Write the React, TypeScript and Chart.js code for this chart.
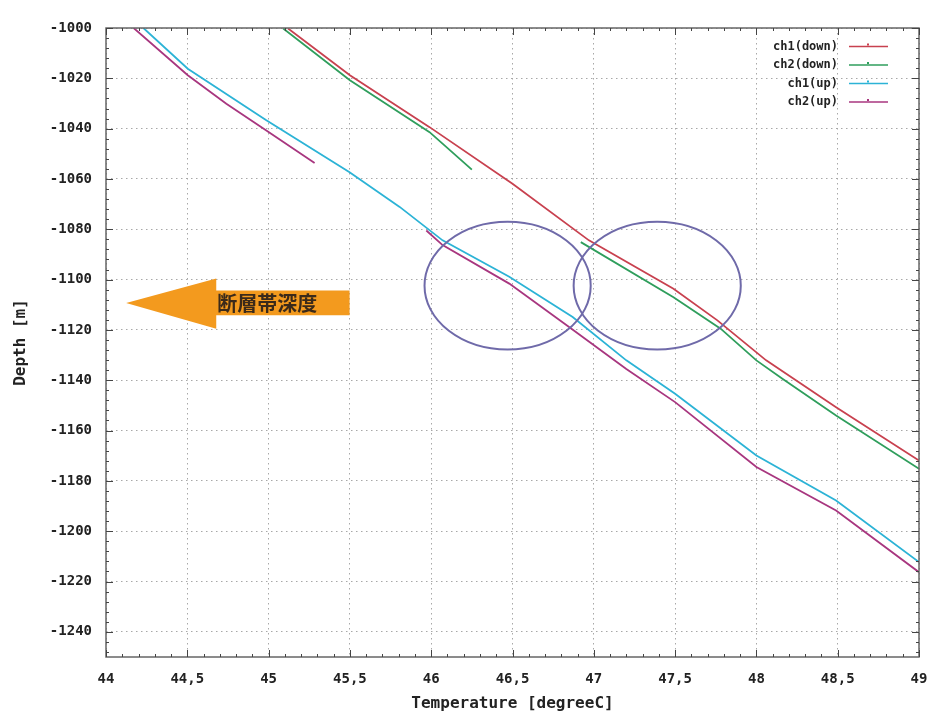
import React, { useEffect, useRef } from 'react';
import { Chart, registerables } from 'chart.js';

Chart.register(...registerables);

// ---- tick labels ----
const xTicks = [44, 44.5, 45, 45.5, 46, 46.5, 47, 47.5, 48, 48.5, 49];
const yTicks = [-1000, -1020, -1040, -1060, -1080, -1100, -1120, -1140, -1160, -1180, -1200, -1220, -1240];
const xMin = 44;
const xMax = 49;
const yMin = -1250;
const yMax = -1000;

// ---- series names ----
const seriesNames = ['ch1(down)', 'ch2(down)', 'ch1(up)', 'ch2(up)'];

// ---- series values (temperature [degC], depth [m]); null depth = gap in record ----
const ch1DownT = [45.12, 45.5, 45.99, 46.5, 46.97, 47.49, 47.76, 48.06, 48.49, 49.0];
const ch1DownD = [-1000.2, -1018.8, -1039.4, -1061.9, -1084.4, -1103.6, -1116.2, -1132.1, -1150.7, -1171.9];

const ch2DownT = [45.09, 45.5, 45.99, 46.25, 46.6, 46.92, 47.49, 47.78, 48.0, 48.16, 48.49, 49.0];
const ch2DownD = [-1000.2, -1020.8, -1041.4, -1056.3, null, -1085.1, -1107.0, -1119.5, -1132.1, -1139.4, -1154.0, -1175.2];

const ch1UpT = [44.23, 44.503, 44.986, 45.498, 45.806, 46.07, 46.48, 46.87, 47.2, 47.5, 48.0, 48.49, 49.0];
const ch1UpD = [-1000.0, -1016.2, -1036.7, -1057.3, -1071.1, -1084.4, -1098.9, -1114.9, -1132.1, -1145.4, -1169.9, -1187.8, -1212.3];

const ch2UpT = [44.17, 44.503, 44.74, 44.986, 45.283, 45.6, 45.97, 46.07, 46.48, 46.85, 47.2, 47.5, 48.0, 48.49, 49.0];
const ch2UpD = [-1000.0, -1018.8, -1030.1, -1040.7, -1053.7, null, -1080.5, -1086.3, -1101.6, -1118.9, -1135.5, -1148.7, -1174.5, -1191.8, -1216.3];

// ---- annotation ----
const annotationText = '断層帯深度';

// ---- styles ----
const seriesColors = ['#c8414f', '#2f9e5c', '#2cb3d6', '#a8367f'];
const ellipseColor = '#6f6aa9';
const arrowColor = '#f39a1e';
// ellipse centres / radii in data units
const ellipseSpecs = [
  { t: 46.47, d: -1102.4, rt: 0.511, rd: 25.4 },
  { t: 47.39, d: -1102.4, rt: 0.514, rd: 25.4 },
];
// arrow geometry in data units
const arrowSpec = {
  tipT: 44.124, tipD: -1109.3,
  headT: 44.678, headTopD: -1099.6, headBottomD: -1119.5,
  endT: 45.498, shaftTopD: -1104.3, shaftBottomD: -1114.2,
};

const toPoints = (ts: number[], ds: (number | null)[]) =>
  ts.map((t, i) => ({ x: t, y: ds[i] }));

const fmtX = (v: number) => String(v).replace('.', ',');

const decorPlugin = {
  id: 'decor',
  afterDatasetsDraw(chart: any) {
    const { ctx, chartArea: a, scales } = chart;
    const x = scales.x;
    const y = scales.y;
    ctx.save();

    // frame
    ctx.strokeStyle = '#666';
    ctx.lineWidth = 1.5;
    ctx.strokeRect(a.left, a.top, a.right - a.left, a.bottom - a.top);

    // inward ticks (major + minor)
    ctx.strokeStyle = '#444';
    ctx.lineWidth = 1;
    ctx.beginPath();
    const nx = Math.round((xMax - xMin) / 0.1);
    for (let i = 0; i <= nx; i++) {
      const px = Math.round(x.getPixelForValue(xMin + i * 0.1)) + 0.5;
      const len = i % 5 === 0 ? 7 : 3;
      ctx.moveTo(px, a.bottom);
      ctx.lineTo(px, a.bottom - len);
      ctx.moveTo(px, a.top);
      ctx.lineTo(px, a.top + len);
    }
    for (let v = yMax; v >= yMin; v -= 4) {
      const py = Math.round(y.getPixelForValue(v)) + 0.5;
      const len = (yMax - v) % 20 === 0 ? 7 : 3;
      ctx.moveTo(a.left, py);
      ctx.lineTo(a.left + len, py);
      ctx.moveTo(a.right, py);
      ctx.lineTo(a.right - len, py);
    }
    ctx.stroke();

    // ellipses
    ctx.strokeStyle = ellipseColor;
    ctx.lineWidth = 2;
    for (const e of ellipseSpecs) {
      const cx = x.getPixelForValue(e.t);
      const cy = y.getPixelForValue(e.d);
      const rx = Math.abs(x.getPixelForValue(e.t + e.rt) - cx);
      const ry = Math.abs(y.getPixelForValue(e.d + e.rd) - cy);
      ctx.beginPath();
      ctx.ellipse(cx, cy, rx, ry, 0, 0, Math.PI * 2);
      ctx.stroke();
    }

    // arrow
    const A = arrowSpec;
    ctx.fillStyle = arrowColor;
    ctx.beginPath();
    ctx.moveTo(x.getPixelForValue(A.tipT), y.getPixelForValue(A.tipD));
    ctx.lineTo(x.getPixelForValue(A.headT), y.getPixelForValue(A.headTopD));
    ctx.lineTo(x.getPixelForValue(A.headT), y.getPixelForValue(A.shaftTopD));
    ctx.lineTo(x.getPixelForValue(A.endT), y.getPixelForValue(A.shaftTopD));
    ctx.lineTo(x.getPixelForValue(A.endT), y.getPixelForValue(A.shaftBottomD));
    ctx.lineTo(x.getPixelForValue(A.headT), y.getPixelForValue(A.shaftBottomD));
    ctx.lineTo(x.getPixelForValue(A.headT), y.getPixelForValue(A.headBottomD));
    ctx.closePath();
    ctx.fill();

    ctx.fillStyle = '#3b2a1a';
    ctx.font = 'bold 20px "Noto Sans CJK JP"';
    ctx.textAlign = 'left';
    ctx.textBaseline = 'middle';
    ctx.fillText(
      annotationText,
      x.getPixelForValue(A.headT) + 1,
      (y.getPixelForValue(A.shaftTopD) + y.getPixelForValue(A.shaftBottomD)) / 2 + 1
    );

    // legend (gnuplot style, inside top-right)
    ctx.font = 'bold 12px "DejaVu Sans Mono"';
    ctx.textAlign = 'right';
    ctx.textBaseline = 'middle';
    for (let i = 0; i < seriesNames.length; i++) {
      const ly = a.top + 18.5 + i * 18.5;
      ctx.fillStyle = '#222';
      ctx.fillText(seriesNames[i], a.right - 81, ly);
      ctx.strokeStyle = seriesColors[i];
      ctx.lineWidth = 1.5;
      ctx.beginPath();
      ctx.moveTo(a.right - 70, ly);
      ctx.lineTo(a.right - 31, ly);
      ctx.stroke();
      ctx.fillStyle = seriesColors[i];
      ctx.fillRect(a.right - 52, ly - 3, 2, 2);
    }

    ctx.restore();
  },
};

export default function App() {
  const canvasRef = useRef<HTMLCanvasElement | null>(null);

  useEffect(() => {
    const canvas = canvasRef.current;
    if (!canvas) return;
    const seriesT = [ch1DownT, ch2DownT, ch1UpT, ch2UpT];
    const seriesD = [ch1DownD, ch2DownD, ch1UpD, ch2UpD];
    const chart = new Chart(canvas, {
      type: 'line',
      data: {
        datasets: seriesNames.map((name, i) => ({
          label: name,
          data: toPoints(seriesT[i], seriesD[i]),
          borderColor: seriesColors[i],
          backgroundColor: seriesColors[i],
          borderWidth: 1.8,
          pointRadius: 0,
          tension: 0,
          spanGaps: false,
          fill: false,
        })),
      },
      options: {
        responsive: false,
        animation: false,
        events: [],
        layout: { padding: { left: 0, top: 28, right: 16, bottom: 0 } },
        plugins: {
          legend: { display: false },
          tooltip: { enabled: false },
          title: { display: false },
        },
        scales: {
          x: {
            type: 'linear',
            min: xMin,
            max: xMax,
            afterBuildTicks: (scale: any) => {
              scale.ticks = xTicks.map((v) => ({ value: v }));
            },
            afterFit: (scale: any) => {
              scale.height = 56;
            },
            ticks: {
              callback: (v: any) => fmtX(Number(v)),
              color: '#222',
              font: { family: 'DejaVu Sans Mono', size: 14, weight: 'bold' },
              padding: 0,
              maxRotation: 0,
              autoSkip: false,
            },
            grid: {
              color: '#a8a8a8',
              lineWidth: 1,
              drawTicks: true,
              tickLength: 14,
              tickColor: 'rgba(0,0,0,0)',
            },
            border: { display: false, dash: [1.5, 3.5] },
            title: {
              display: true,
              text: 'Temperature [degreeC]',
              color: '#222',
              font: { family: 'DejaVu Sans Mono', size: 16, weight: 'bold' },
              padding: { top: 0, bottom: 0 },
            },
          },
          y: {
            type: 'linear',
            min: yMin,
            max: yMax,
            afterBuildTicks: (scale: any) => {
              scale.ticks = yTicks.map((v) => ({ value: v }));
            },
            afterFit: (scale: any) => {
              scale.width = 106;
            },
            ticks: {
              callback: (v: any) => String(v),
              color: '#222',
              font: { family: 'DejaVu Sans Mono', size: 14, weight: 'bold' },
              padding: 14,
              autoSkip: false,
            },
            grid: {
              color: '#a8a8a8',
              lineWidth: 1,
              drawTicks: false,
            },
            border: { display: false, dash: [1.5, 3.5] },
            title: {
              display: true,
              text: 'Depth [m]',
              color: '#222',
              font: { family: 'DejaVu Sans Mono', size: 16, weight: 'bold' },
              padding: { top: 11, bottom: 0 },
            },
          },
        },
      },
      plugins: [decorPlugin],
    } as any);
    return () => chart.destroy();
  }, []);

  return (
    <div style={{ position: 'absolute', left: 0, top: 0, width: 935, height: 713, background: '#fff' }}>
      <canvas ref={canvasRef} width={935} height={713} style={{ display: 'block' }} />
    </div>
  );
}
